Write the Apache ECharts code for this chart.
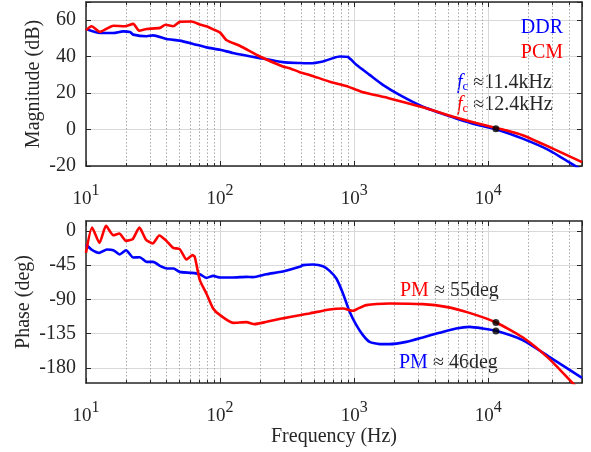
<!DOCTYPE html>
<html>
<head>
<meta charset="utf-8">
<script src="https://cdn.jsdelivr.net/npm/echarts@6/dist/echarts.min.js"></script>
<style>
  html, body { margin: 0; padding: 0; background: #fff; }
  #chart { width: 591px; height: 452px; }
</style>
</head>
<body>
<div id="chart"></div>
<script>
// magnitude, DDR (blue) - [Hz, dB]
const magDDR = [
    [10, 55.2], [12.7, 53], [16, 53], [18.9, 53.9], [21.3, 53.5], [22.5, 52.1],
    [28.3, 51.2], [31.7, 51.7], [39.8, 49.7], [50, 48.8], [63, 47], [79, 45.1],
    [100, 43.8], [125, 42], [198, 39.2], [294, 37], [392, 36.5], [465, 36.4],
    [585, 37.4], [694, 39.2], [778, 40.1], [897, 39.8], [1038, 35.5], [1303, 30],
    [1637, 24.5], [2178, 19], [3250, 12.5], [4325, 9.2], [5757, 6.1], [8110, 2.8],
    [11430, 0.2], [18040, -5], [28500, -11.4], [43800, -19.7], [50000, -22.5]
];
// magnitude, PCM (red)
const magPCM = [
    [10, 54.5], [11, 56.7], [12.7, 53.6], [14.3, 55.4], [16, 57], [19.5, 56.7],
    [22.5, 58], [24.9, 54.3], [28.3, 55.2], [35.6, 55.8], [39.2, 57.5], [44.7, 56.7],
    [50, 59.1], [61.2, 59.3], [70.6, 57.7], [79, 56.7], [88.7, 55], [100, 53.2],
    [112, 49], [140, 46], [198, 40.1], [294, 34.6], [330, 33.7], [392, 31.5],
    [465, 30], [656, 26.3], [873, 23.9], [1130, 20.8], [1837, 17.1], [3250, 12.2],
    [5757, 6.6], [8110, 3.6], [11430, 0.9], [13580, -0.4], [18040, -3.1],
    [26900, -8.7], [50000, -17.9]
];
// phase, DDR (blue) - [Hz, deg]
const phaseDDR = [
    [10, -17.9], [11, -24.5], [12.6, -28.9], [14.3, -24.5], [16, -25.4], [17.8, -31],
    [19.9, -25.4], [22.5, -35], [25.2, -34.6], [28.3, -40.7], [31.7, -40.7],
    [35.6, -46], [40, -49.4], [45, -49.4], [50, -53.9], [61, -55.2], [70.6, -56.9],
    [79, -61.8], [88.7, -59.1], [100, -61.2], [125, -61.2], [157, -60.4],
    [176, -60.8], [222, -56.9], [294, -53.4], [392, -47.3], [415, -45],
    [493, -44.2], [585, -46.4], [656, -52.6], [736, -62.6], [825, -82.3],
    [925, -106.4], [1038, -124], [1162, -137], [1303, -145.9], [1545, -148.9],
    [1837, -148.9], [2445, -145.9], [3250, -140.1], [4325, -134], [5757, -128.3],
    [7230, -126.2], [9080, -128.3], [11430, -131.4], [18040, -143.6],
    [28500, -165.6], [50000, -193.2]
];
// phase, PCM (red)
const phasePCM = [
    [10, -28.9], [11.1, 4.4], [12.6, -15.7], [14.1, 6.6], [16, -5.7], [17.7, -3.5],
    [19.9, -13.1], [22.3, -10.9], [25, 4.4], [28, -11.4], [31.4, -16.6], [35.2, -6.1],
    [39.8, -13.1], [44.7, -22.3], [50, -24], [56.2, -37.6], [62.3, -31.9],
    [64.7, -34], [70.6, -64.8], [79, -82.3], [88.7, -102], [100, -110.8],
    [125, -120.9], [157, -120], [181, -122.6], [222, -119.6], [294, -115],
    [392, -110.8], [465, -108.5], [656, -103.3], [825, -102], [978, -105.1],
    [1038, -103.3], [1230, -97.6], [1837, -95.4], [3250, -96.3], [4840, -99.9],
    [7230, -107.8], [11430, -120.4], [18040, -139.9], [28500, -168.3],
    [42500, -200], [50000, -212]
];
const crossMag = [[11400, 0.5]];
const crossPhase = [[11400, -120.5], [11400, -131.5]];

const minorFreqs = [];
[10, 100, 1000, 10000].forEach(d => {
    for (let k = 2; k <= 9; k++) {
        if (k * d < 50000) minorFreqs.push(k * d);
    }
});
const phaseTicks = [-180, -135, -90, -45, 0];

const FONT = '"Liberation Serif", "Times New Roman", serif';
const INK = '#262626';
const FS = 20;

const chart = echarts.init(document.getElementById('chart'));

function logLabel(v) {
    const e = Math.log10(v);
    const r = Math.round(e);
    if (Math.abs(e - r) > 1e-6) return '';
    return '{b|10}{s|' + r + '}';
}

function xAxes(gridIndex, withName) {
    const base = {
        type: 'log', logBase: 10, min: 10, max: 50000, gridIndex: gridIndex
    };
    return [
        {
            ...base,
            position: 'bottom',
            axisLine: { show: true, onZero: false, lineStyle: { color: INK, width: 1.5 } },
            axisTick: { show: true, inside: true, length: 5, lineStyle: { color: INK } },
            splitLine: { show: true, lineStyle: { color: '#d9d9d9', width: 1 } },
            axisLabel: {
                margin: 17,
                formatter: logLabel,
                rich: {
                    b: { fontFamily: FONT, fontSize: 19, color: INK, lineHeight: 26, verticalAlign: 'bottom' },
                    s: { fontFamily: FONT, fontSize: 16, color: INK, lineHeight: 17, verticalAlign: 'top' }
                }
            },
            name: withName ? 'Frequency (Hz)' : '',
            nameLocation: 'middle',
            nameGap: 44,
            nameMoveOverlap: false,
            nameTextStyle: { fontFamily: FONT, fontSize: FS, color: INK }
        },
        {
            ...base,
            position: 'bottom',
            axisLine: { show: false, onZero: false },
            axisTick: { show: true, inside: true, length: 3, customValues: minorFreqs, lineStyle: { color: INK } },
            splitLine: { show: true, lineStyle: { color: '#a8a8a8', width: 1, type: [1.5, 2] } },
            axisLabel: { show: false }
        },
        {
            ...base,
            position: 'top',
            axisLine: { show: true, onZero: false, lineStyle: { color: INK, width: 1.5 } },
            axisTick: { show: true, inside: true, length: 5, lineStyle: { color: INK } },
            splitLine: { show: false },
            axisLabel: { show: false }
        },
        {
            ...base,
            position: 'top',
            axisLine: { show: false, onZero: false },
            axisTick: { show: true, inside: true, length: 3, customValues: minorFreqs, lineStyle: { color: INK } },
            splitLine: { show: false },
            axisLabel: { show: false }
        }
    ];
}

const yLabel = { fontFamily: FONT, fontSize: FS, color: INK, margin: 10 };
const yName = { fontFamily: FONT, fontSize: FS, color: INK };

const option = {
    animation: false,
    backgroundColor: '#fff',
    grid: [
        { left: 86, right: 9, top: 2, height: 164 },
        { left: 86, right: 9, top: 221, height: 162 }
    ],
    xAxis: [...xAxes(0, false), ...xAxes(1, true)],
    yAxis: [
        {
            type: 'value', gridIndex: 0, min: -20, max: 70, interval: 20,
            axisLine: { show: true, onZero: false, lineStyle: { color: INK, width: 1.5 } },
            axisTick: { show: true, inside: true, length: 5, lineStyle: { color: INK } },
            splitLine: { show: true, lineStyle: { color: '#d9d9d9', width: 1 } },
            axisLabel: { ...yLabel, formatter: v => (v > 60 ? '' : String(v)) },
            name: 'Magnitude (dB)', nameLocation: 'middle', nameGap: 42, nameMoveOverlap: false,
            nameTextStyle: yName
        },
        {
            type: 'value', gridIndex: 0, min: -20, max: 70, interval: 20, position: 'right',
            axisLine: { show: true, onZero: false, lineStyle: { color: INK, width: 1.5 } },
            axisTick: { show: true, inside: true, length: 5, lineStyle: { color: INK } },
            splitLine: { show: false }, axisLabel: { show: false }
        },
        {
            type: 'value', gridIndex: 1, min: -200, max: 13,
            axisLine: { show: true, onZero: false, lineStyle: { color: INK, width: 1.5 } },
            axisTick: { show: true, inside: true, length: 5, customValues: phaseTicks, lineStyle: { color: INK } },
            splitLine: { show: true, lineStyle: { color: '#d9d9d9', width: 1 } },
            axisLabel: { ...yLabel, customValues: phaseTicks },
            name: 'Phase (deg)', nameLocation: 'middle', nameGap: 52, nameMoveOverlap: false,
            nameTextStyle: yName
        },
        {
            type: 'value', gridIndex: 1, min: -200, max: 13, position: 'right',
            axisLine: { show: true, onZero: false, lineStyle: { color: INK, width: 1.5 } },
            axisTick: { show: true, inside: true, length: 5, customValues: phaseTicks, lineStyle: { color: INK } },
            splitLine: { show: false }, axisLabel: { show: false }
        }
    ],
    legend: {
        orient: 'vertical', right: 18, top: 11, itemWidth: 0, itemHeight: 0, itemGap: 1,
        selectedMode: false, align: 'right',
        textStyle: { fontFamily: FONT, fontSize: FS, lineHeight: 24 },
        data: [
            { name: 'DDR', icon: 'rect', textStyle: { color: '#0000ff' } },
            { name: 'PCM', icon: 'rect', textStyle: { color: '#ff0000' } }
        ]
    },
    series: [
        { name: 'DDR', type: 'line', xAxisIndex: 0, yAxisIndex: 0, data: magDDR, showSymbol: false, smooth: 0.2, lineStyle: { color: '#0000ff', width: 2.6 }, itemStyle: { color: '#0000ff' } },
        { name: 'PCM', type: 'line', xAxisIndex: 0, yAxisIndex: 0, data: magPCM, showSymbol: false, smooth: 0.2, lineStyle: { color: '#ff0000', width: 2.6 }, itemStyle: { color: '#ff0000' } },
        { name: 'DDR', type: 'line', xAxisIndex: 4, yAxisIndex: 2, data: phaseDDR, showSymbol: false, smooth: 0.2, lineStyle: { color: '#0000ff', width: 2.6 }, itemStyle: { color: '#0000ff' } },
        { name: 'PCM', type: 'line', xAxisIndex: 4, yAxisIndex: 2, data: phasePCM, showSymbol: false, smooth: 0.2, lineStyle: { color: '#ff0000', width: 2.6 }, itemStyle: { color: '#ff0000' } },
        { type: 'scatter', xAxisIndex: 0, yAxisIndex: 0, data: crossMag, symbolSize: 7, itemStyle: { color: '#000' }, z: 5 },
        { type: 'scatter', xAxisIndex: 4, yAxisIndex: 2, data: crossPhase, symbolSize: 7, itemStyle: { color: '#000' }, z: 5 }
    ],
    graphic: [
        {
            type: 'text', left: 457, top: 73,
            style: {
                text: '{f|f}{c|c}{t| ≈11.4kHz}',
                rich: {
                    f: { fontFamily: FONT, fontStyle: 'italic', fontSize: FS, fill: '#0000ff', lineHeight: 26, verticalAlign: 'bottom' },
                    c: { fontFamily: FONT, fontSize: 13, fill: '#0000ff', lineHeight: 13, verticalAlign: 'bottom' },
                    t: { fontFamily: FONT, fontSize: FS, fill: INK, lineHeight: 26, verticalAlign: 'bottom' }
                }
            }
        },
        {
            type: 'text', left: 457, top: 95,
            style: {
                text: '{f|f}{c|c}{t| ≈12.4kHz}',
                rich: {
                    f: { fontFamily: FONT, fontStyle: 'italic', fontSize: FS, fill: '#ff0000', lineHeight: 26, verticalAlign: 'bottom' },
                    c: { fontFamily: FONT, fontSize: 13, fill: '#ff0000', lineHeight: 13, verticalAlign: 'bottom' },
                    t: { fontFamily: FONT, fontSize: FS, fill: INK, lineHeight: 26, verticalAlign: 'bottom' }
                }
            }
        },
        {
            type: 'text', left: 400, top: 281,
            style: {
                text: '{p|PM}{t| ≈ 55deg}',
                rich: {
                    p: { fontFamily: FONT, fontSize: FS, fill: '#ff0000', lineHeight: 24 },
                    t: { fontFamily: FONT, fontSize: FS, fill: INK, lineHeight: 24 }
                }
            }
        },
        {
            type: 'text', left: 399, top: 353,
            style: {
                text: '{p|PM}{t| ≈ 46deg}',
                rich: {
                    p: { fontFamily: FONT, fontSize: FS, fill: '#0000ff', lineHeight: 24 },
                    t: { fontFamily: FONT, fontSize: FS, fill: INK, lineHeight: 24 }
                }
            }
        }
    ]
};

chart.setOption(option);
</script>
</body>
</html>
